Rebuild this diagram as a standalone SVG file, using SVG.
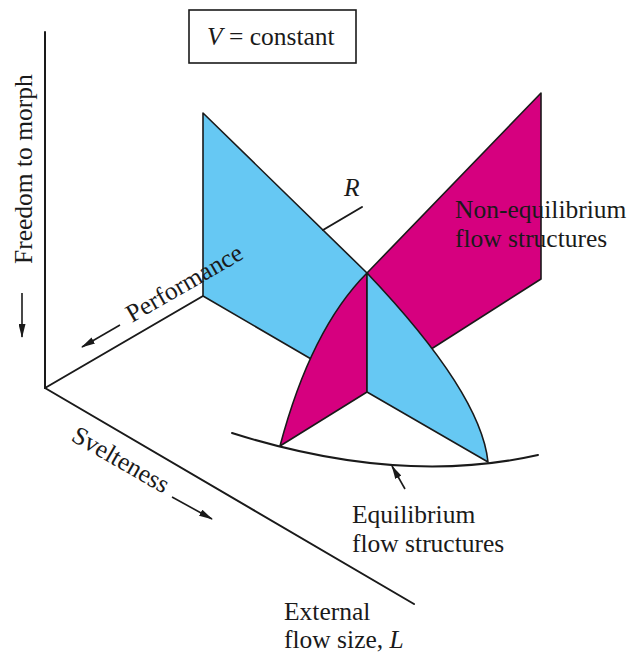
<svg xmlns="http://www.w3.org/2000/svg" width="636" height="655" viewBox="0 0 636 655">
  <style>
    .t { font-family: "Liberation Serif", "Times New Roman", serif; font-size: 25.5px; fill: #1a1a1a; }
    .i { font-style: italic; }
    .ax { stroke: #1a1a1a; stroke-width: 2; fill: none; stroke-linecap: round; }
    .edge { stroke: #1a1a1a; stroke-width: 1.6; stroke-linejoin: round; }
    .blue { fill: #66c8f3; }
    .pink { fill: #d6007f; }
    .arr { stroke: #1a1a1a; stroke-width: 1.6; fill: none; marker-end: url(#ah); }
  </style>
  <defs>
    <marker id="ah" viewBox="0 0 14 7" refX="13" refY="3.5" markerWidth="14" markerHeight="7" orient="auto" markerUnits="userSpaceOnUse">
      <path d="M0,0 L14,3.5 L0,7 Z" fill="#1a1a1a"/>
    </marker>
  </defs>
  <rect width="636" height="655" fill="#ffffff"/>

  <g id="axes">
    <line class="ax" x1="45" y1="32" x2="45" y2="388"/>
    <line class="ax" x1="45" y1="388" x2="203" y2="296"/>
    <line class="ax" x1="45" y1="388" x2="414" y2="604"/>
  </g>

  <g id="constant-box">
    <rect x="189" y="10" width="167" height="53" fill="#ffffff" stroke="#1a1a1a" stroke-width="1.6"/>
    <text class="t" x="207" y="45"><tspan class="i">V</tspan> = constant</text>
  </g>

  <g id="blue-plane">
    <path class="blue edge" d="M203,113 L367,273 L330,370 L203,296 Z"/>
  </g>

  <g id="pink-plane">
    <path class="pink edge" d="M367,273 L541,93 L541,279 L425,353 Z"/>
  </g>

  <g id="lens">
    <path class="pink edge" d="M367,273 L367,392 L280,446 Q311,329 367,273 Z"/>
    <path class="blue edge" d="M367,273 L367,392 L488,462 Q481,393 367,273 Z"/>
  </g>

  <g id="equilibrium-curve">
    <path class="ax" d="M232,433 Q400,486 538,455"/>
  </g>

  <g id="r-axis">
    <line class="ax" x1="323" y1="230" x2="362" y2="207"/>
    <text class="t i" x="344" y="196">R</text>
  </g>

  <g id="connectors">
    <line class="arr" x1="22" y1="293" x2="22" y2="337"/>
    <line class="arr" x1="120" y1="325" x2="82" y2="347"/>
    <line class="arr" x1="172" y1="497" x2="212" y2="519"/>
    <line class="arr" x1="405" y1="489" x2="392" y2="466"/>
  </g>

  <g id="labels">
    <text class="t" font-size="28" transform="translate(32,264) rotate(-90)">Freedom to morph</text>
    <text class="t" font-size="26.5" transform="translate(132,323) rotate(-30)">Performance</text>
    <text class="t" transform="translate(70,440) rotate(30)">Svelteness</text>
    <text class="t" font-size="26.5" x="455" y="218">Non-equilibrium</text>
    <text class="t" font-size="26.5" x="455" y="247">flow structures</text>
    <text class="t" x="352" y="523">Equilibrium</text>
    <text class="t" x="352" y="552">flow structures</text>
    <text class="t" x="284" y="620">External</text>
    <text class="t" x="284" y="648">flow size, <tspan class="i">L</tspan></text>
  </g>
</svg>
